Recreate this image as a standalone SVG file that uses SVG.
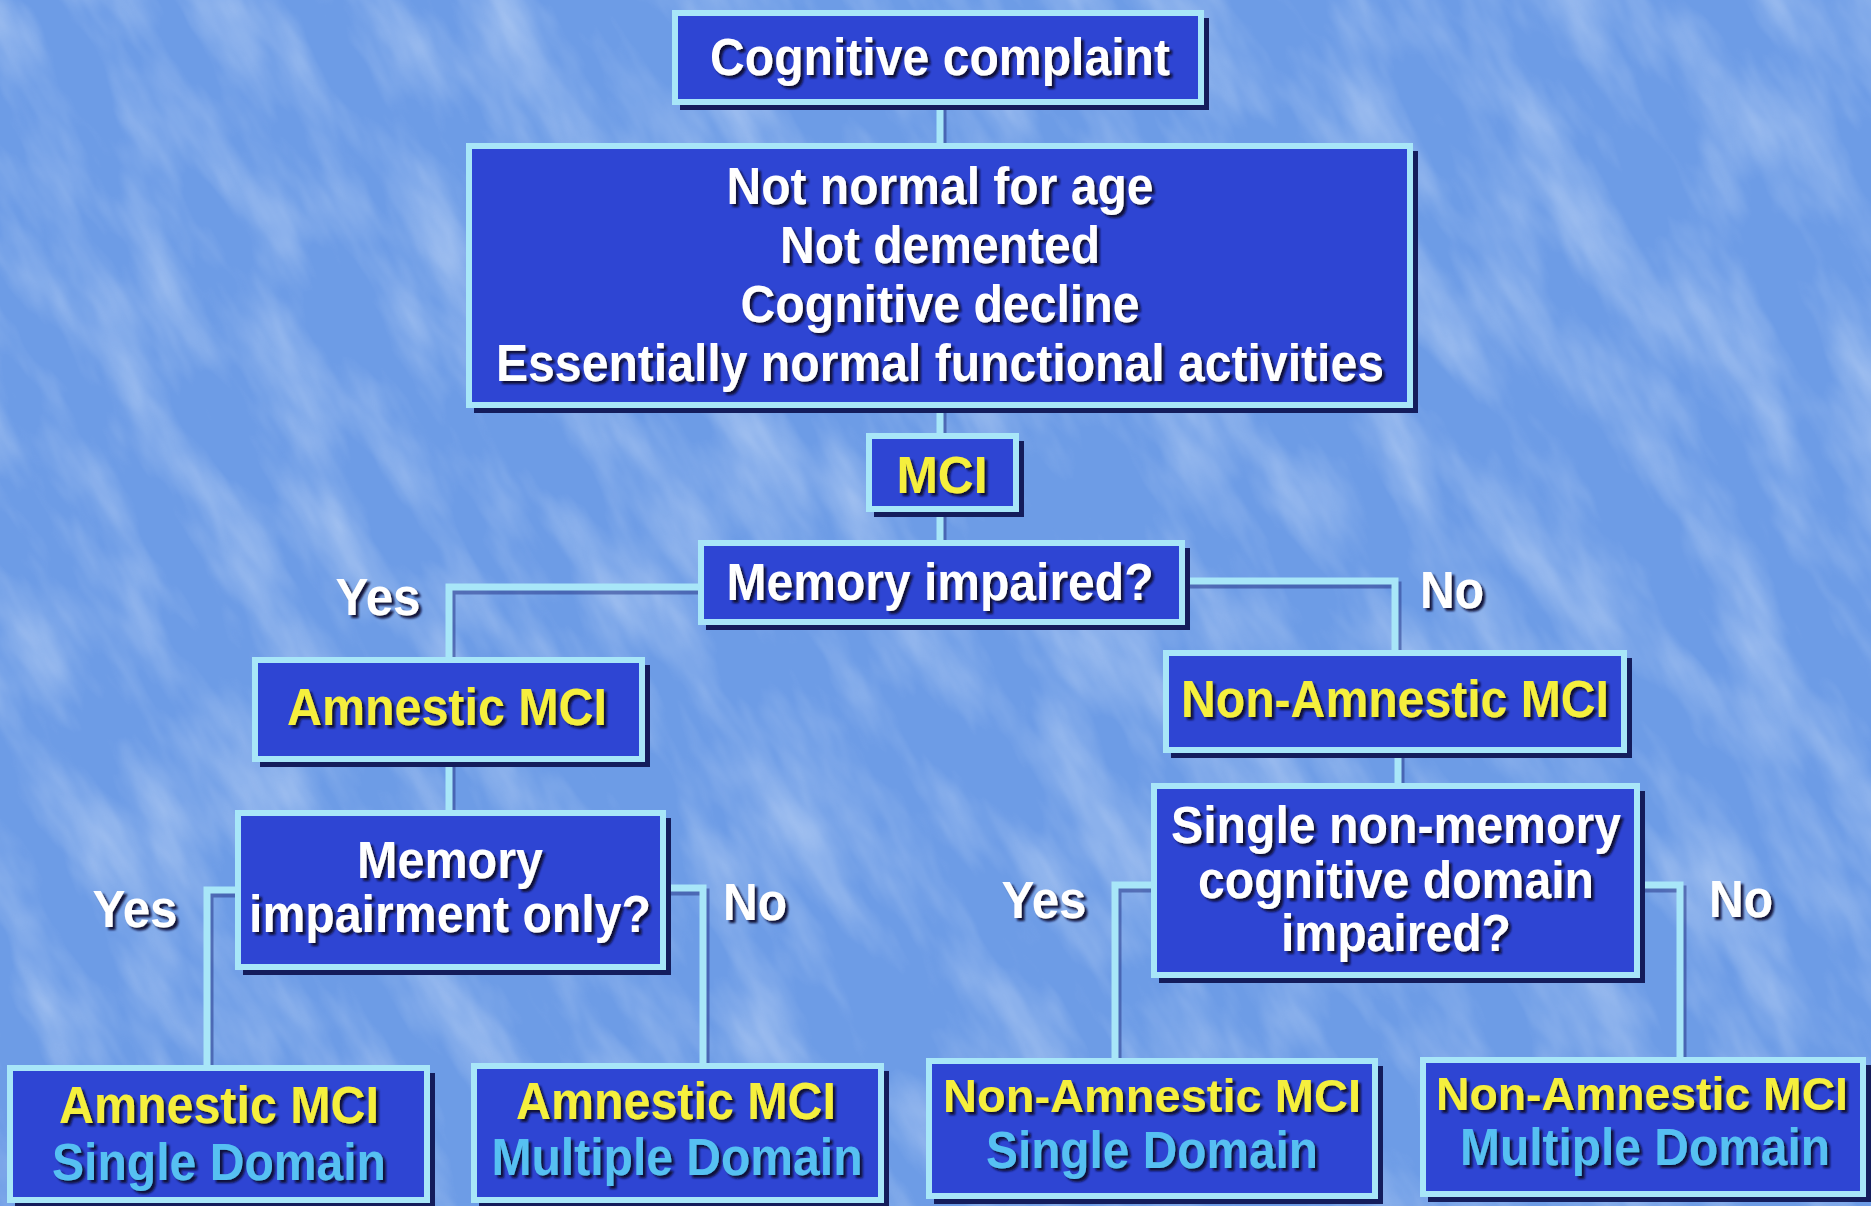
<svg xmlns="http://www.w3.org/2000/svg" width="1871" height="1206" viewBox="0 0 1871 1206">
<defs>
<style>
.box{fill:#2e45d3;stroke:#a8e6f8;stroke-width:6}
.sh{fill:#141d5c}
.conn{fill:none;stroke:#a8e6f8;stroke-width:7;stroke-linejoin:miter}
.connsh{fill:none;stroke:#2a3a8a;stroke-width:7;opacity:0.55}
text{font-family:"Liberation Sans",Arial,sans-serif;font-weight:bold;font-size:51px;text-anchor:middle;filter:url(#ts)}
text.tight{filter:url(#ts2)}
.w{fill:#ffffff}
.y{fill:#f5ef3e}
.b{fill:#56c0f2}
</style>
<filter id="ts" x="-10%" y="-30%" width="120%" height="160%">
<feDropShadow dx="3" dy="3" stdDeviation="1" flood-color="#0b1033" flood-opacity="0.95"/>
</filter>
<filter id="ts2" x="-2%" y="-30%" width="104%" height="160%">
<feDropShadow dx="3" dy="3" stdDeviation="1" flood-color="#0b1033" flood-opacity="0.95"/>
</filter>
<filter id="tex" x="0" y="0" width="100%" height="100%">
<feTurbulence type="fractalNoise" baseFrequency="0.018 0.006" numOctaves="4" seed="11" result="n"/>
<feColorMatrix in="n" type="matrix" values="0 0 0 0 0.84  0 0 0 0 0.91  0 0 0 0 1  0 0 0 1.4 -0.55"/>
</filter>
</defs>
<rect x="0" y="0" width="1871" height="1206" fill="#6d9ce6"/>
<rect x="-400" y="-400" width="2700" height="2000" filter="url(#tex)" transform="rotate(-30 935 603)" opacity="0.55"/>

<g id="connectors">
<g transform="translate(3,4)">
<polyline class="connsh" points="940,105 940,143"/>
<polyline class="connsh" points="940,408 940,433"/>
<polyline class="connsh" points="940,512 940,540"/>
<polyline class="connsh" points="698,587 449,587 449,657"/>
<polyline class="connsh" points="1185,581 1395,581 1395,650"/>
<polyline class="connsh" points="449,762 449,810"/>
<polyline class="connsh" points="1398,753 1398,783"/>
<polyline class="connsh" points="235,890 207,890 207,1065"/>
<polyline class="connsh" points="666,888 703,888 703,1063"/>
<polyline class="connsh" points="1151,885 1115,885 1115,1058"/>
<polyline class="connsh" points="1640,885 1680,885 1680,1057"/>
</g>
<polyline class="conn" points="940,105 940,143"/>
<polyline class="conn" points="940,408 940,433"/>
<polyline class="conn" points="940,512 940,540"/>
<polyline class="conn" points="698,587 449,587 449,657"/>
<polyline class="conn" points="1185,581 1395,581 1395,650"/>
<polyline class="conn" points="449,762 449,810"/>
<polyline class="conn" points="1398,753 1398,783"/>
<polyline class="conn" points="235,890 207,890 207,1065"/>
<polyline class="conn" points="666,888 703,888 703,1063"/>
<polyline class="conn" points="1151,885 1115,885 1115,1058"/>
<polyline class="conn" points="1640,885 1680,885 1680,1057"/>
</g>

<g id="labels">
<text class="w" x="378" y="615" textLength="85" lengthAdjust="spacingAndGlyphs">Yes</text>
<text class="w" x="1452" y="608" textLength="64" lengthAdjust="spacingAndGlyphs">No</text>
<text class="w" x="135" y="927" textLength="85" lengthAdjust="spacingAndGlyphs">Yes</text>
<text class="w" x="755" y="920" textLength="64" lengthAdjust="spacingAndGlyphs">No</text>
<text class="w" x="1044" y="918" textLength="85" lengthAdjust="spacingAndGlyphs">Yes</text>
<text class="w" x="1741" y="917" textLength="64" lengthAdjust="spacingAndGlyphs">No</text>
</g>

<g id="n-complaint">
<rect class="sh" x="680" y="18" width="529" height="92"/>
<rect class="box" x="675" y="13" width="526" height="89"/>
<text class="w" x="940" y="75" textLength="460" lengthAdjust="spacingAndGlyphs">Cognitive complaint</text>
</g>

<g id="n-criteria">
<rect class="sh" x="474" y="151" width="944" height="262"/>
<rect class="box" x="469" y="146" width="941" height="259"/>
<text class="w" x="940" y="204" textLength="427" lengthAdjust="spacingAndGlyphs">Not normal for age</text>
<text class="w" x="940" y="263" textLength="320" lengthAdjust="spacingAndGlyphs">Not demented</text>
<text class="w" x="940" y="322" textLength="399" lengthAdjust="spacingAndGlyphs">Cognitive decline</text>
<text class="w" x="940" y="381" textLength="888" lengthAdjust="spacingAndGlyphs">Essentially normal functional activities</text>
</g>

<g id="n-mci">
<rect class="sh" x="874" y="441" width="150" height="76"/>
<rect class="box" x="869" y="436" width="147" height="73"/>
<text class="y" x="942" y="493" style="font-size:52px" textLength="91" lengthAdjust="spacingAndGlyphs">MCI</text>
</g>

<g id="n-memory">
<rect class="sh" x="706" y="548" width="484" height="82"/>
<rect class="box" x="701" y="543" width="481" height="79"/>
<text class="w" x="940" y="600" textLength="427" lengthAdjust="spacingAndGlyphs">Memory impaired?</text>
</g>

<g id="n-amnestic">
<rect class="sh" x="260" y="665" width="390" height="102"/>
<rect class="box" x="255" y="660" width="387" height="99"/>
<text class="y" x="447" y="725" textLength="320" lengthAdjust="spacingAndGlyphs">Amnestic MCI</text>
</g>

<g id="n-memonly">
<rect class="sh" x="243" y="818" width="428" height="157"/>
<rect class="box" x="238" y="813" width="425" height="154"/>
<text class="w" x="450" y="878" textLength="186" lengthAdjust="spacingAndGlyphs">Memory</text>
<text class="w" x="450" y="932" textLength="402" lengthAdjust="spacingAndGlyphs">impairment only?</text>
</g>

<g id="n-nonamnestic">
<rect class="sh" x="1171" y="658" width="461" height="100"/>
<rect class="box" x="1166" y="653" width="458" height="97"/>
<text class="y" x="1395" y="717" textLength="428" lengthAdjust="spacingAndGlyphs">Non-Amnestic MCI</text>
</g>

<g id="n-single">
<rect class="sh" x="1159" y="791" width="486" height="192"/>
<rect class="box" x="1154" y="786" width="483" height="189"/>
<text class="w" x="1396" y="843" textLength="450" lengthAdjust="spacingAndGlyphs">Single non-memory</text>
<text class="w" x="1396" y="898" textLength="396" lengthAdjust="spacingAndGlyphs">cognitive domain</text>
<text class="w" x="1396" y="951" textLength="230" lengthAdjust="spacingAndGlyphs">impaired?</text>
</g>

<g id="n-amn-single">
<rect class="sh" x="15" y="1073" width="420" height="135"/>
<rect class="box" x="10" y="1068" width="417" height="132"/>
<text class="y" x="219" y="1123" textLength="320" lengthAdjust="spacingAndGlyphs">Amnestic MCI</text>
<text class="b" x="219" y="1180" textLength="334" lengthAdjust="spacingAndGlyphs">Single Domain</text>
</g>

<g id="n-amn-multi">
<rect class="sh" x="479" y="1071" width="410" height="137"/>
<rect class="box" x="474" y="1066" width="407" height="134"/>
<text class="y" x="676" y="1119" textLength="320" lengthAdjust="spacingAndGlyphs">Amnestic MCI</text>
<text class="b" x="677" y="1175" textLength="371" lengthAdjust="spacingAndGlyphs">Multiple Domain</text>
</g>

<g id="n-non-single">
<rect class="sh" x="934" y="1066" width="449" height="138"/>
<rect class="box" x="929" y="1061" width="446" height="135"/>
<text class="y" x="1152" y="1112" style="font-size:47px" textLength="418" lengthAdjust="spacingAndGlyphs">Non-Amnestic MCI</text>
<text class="b" x="1152" y="1168" textLength="332" lengthAdjust="spacingAndGlyphs">Single Domain</text>
</g>

<g id="n-non-multi">
<rect class="sh" x="1428" y="1065" width="443" height="137"/>
<rect class="box" x="1423" y="1060" width="440" height="134"/>
<text class="y tight" x="1642" y="1110" style="font-size:46px" textLength="412" lengthAdjust="spacingAndGlyphs">Non-Amnestic MCI</text>
<text class="b tight" x="1645" y="1165" textLength="370" lengthAdjust="spacingAndGlyphs">Multiple Domain</text>
</g>
</svg>
